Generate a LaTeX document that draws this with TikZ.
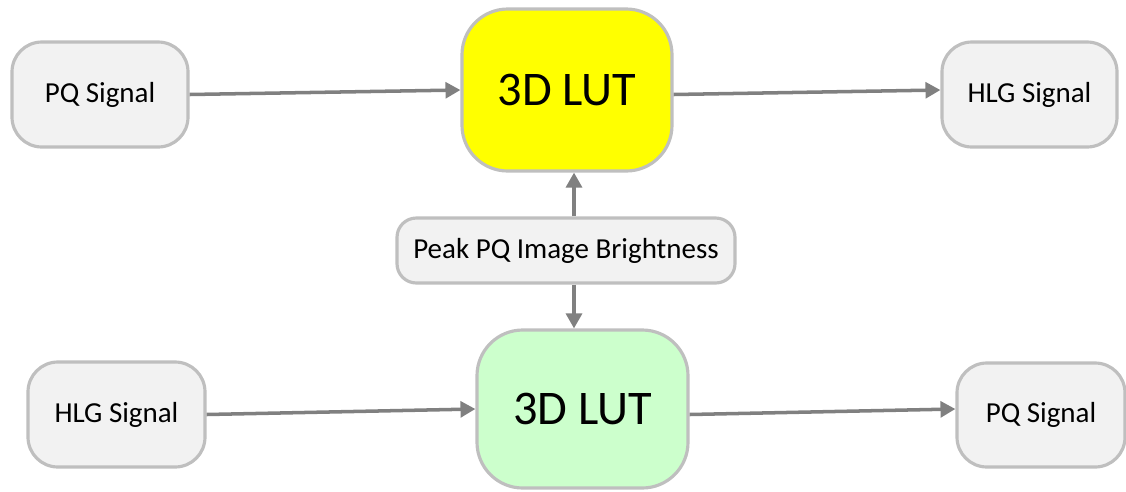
\documentclass[tikz,border=0pt]{standalone}
\usepackage{fontspec}
\setmainfont{Carlito}
\usetikzlibrary{arrows.meta}
\newlength\pu
\setlength\pu{0.02cm}
\definecolor{boxline}{HTML}{BFBFBF}
\definecolor{boxfill}{HTML}{F2F2F2}
\definecolor{arrowgray}{HTML}{808080}
\definecolor{lutyellow}{HTML}{FFFF00}
\definecolor{lutgreen}{HTML}{CCFFCC}
\tikzset{
  sigbox/.style={draw=boxline, fill=boxfill, line width=1.8pt, rounded corners=17pt,
    inner sep=0pt, font=\fontsize{16.5}{19}\selectfont},
  lutbox/.style={draw=boxline, line width=1.8pt, rounded corners=26pt,
    inner sep=0pt, font=\fontsize{27.5}{32}\selectfont},
  flow/.style={draw=arrowgray, line width=2pt,
    -{Triangle[length=8.5pt,width=9pt]}}
}
\begin{document}
\begin{tikzpicture}[x=0.02cm, y=-0.02cm]
  \useasboundingbox (0,0) rectangle (1126,491);

  % upper chain: PQ -> HLG
  \node[sigbox, minimum width=176\pu, minimum height=105\pu] (pqin) at (100,94.5) {PQ Signal};
  \node[lutbox, fill=lutyellow, minimum width=210\pu, minimum height=162\pu] (lutup) at (567,90) {3D LUT};
  \node[sigbox, minimum width=175\pu, minimum height=105\pu] (hlgout) at (1029.5,94.5) {HLG Signal};

  % shared parameter
  \node[sigbox, rounded corners=11pt, minimum width=338\pu, minimum height=65\pu] (peak) at (566,250.5) {Peak PQ Image Brightness};

  % lower chain: HLG -> PQ
  \node[sigbox, minimum width=177\pu, minimum height=105\pu] (hlgin) at (116.5,414.5) {HLG Signal};
  \node[lutbox, fill=lutgreen, minimum width=211\pu, minimum height=158\pu] (lutdown) at (582.5,409) {3D LUT};
  \node[sigbox, minimum width=168\pu, minimum height=104\pu] (pqout) at (1041,415) {PQ Signal};

  \coordinate (axis) at (574,0);

  % each horizontal connector rises slightly from left to right
  \draw[flow] (pqin.east) -- (lutup.west);
  \draw[flow] (lutup.east |- pqin.east) -- (hlgout.west |- lutup.west);
  \draw[flow] (hlgin.east) -- (lutdown.west);
  \draw[flow] (lutdown.east |- hlgin.east) -- (pqout.west |- lutdown.west);
  \draw[flow] (peak.north -| axis) -- (lutup.south -| axis);
  \draw[flow] (peak.south -| axis) -- (lutdown.north -| axis);
\end{tikzpicture}
\end{document}
